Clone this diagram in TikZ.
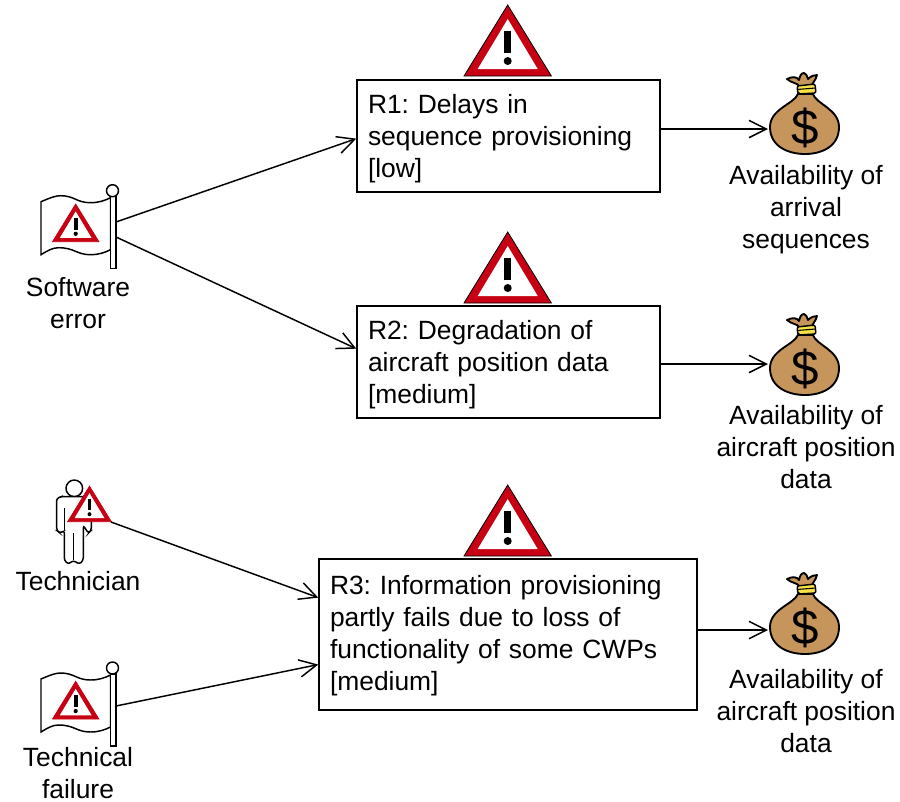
\documentclass[tikz,border=0pt]{standalone}
\usepackage{fontspec}
\setmainfont{Liberation Sans}
\usetikzlibrary{arrows.meta}
\definecolor{signred}{RGB}{200,0,20}
\definecolor{bagbrown}{RGB}{198,149,91}
\definecolor{bagband}{RGB}{250,225,70}
\newcommand{\rtop}[1]{\rule{0pt}{#1}}
\tikzset{
pics/warnsign/.style={code={
\fill[signred, draw=#1, line width=.6pt, line join=miter] (0,-71) -- (-43.7,0) -- (43.7,0) -- cycle;
\fill[white] (0,-57) -- (-30,-7) -- (30,-7) -- cycle;
\fill[black] (-3.5,-45) rectangle (3.5,-23);
\fill[black] (0,-15) circle (4);
}},
pics/warnsign/.default=black,
pics/riskflag/.style={code={
\draw[line width=1.1pt, fill=white] (-71.5,11) .. controls (-62,7) and (-57,5) .. (-52,5) .. controls (-38,5) and (-36,12) .. (-22,12) .. controls (-14,12) and (-8,10) .. (-2,7) -- (-2,59) .. controls (-8,62) and (-14,64) .. (-22,64) .. controls (-36,64) and (-38,57) .. (-54,57) .. controls (-60,57) and (-65,60) .. (-71.5,64) -- cycle;
\draw[line width=1.1pt, fill=white] (-2,6) rectangle (3.5,78);
\draw[line width=1.1pt, fill=white] (0,0) circle (6);
}},
pics/moneybag/.style={code={
\draw[line width=1.4pt, fill=bagbrown, line join=round] (-17,-50) .. controls (-11,-53) and (-7,-52) .. (-5,-49) .. controls (-4,-53) and (-3,-56) .. (0,-56) .. controls (2,-56) and (3,-53) .. (4,-50) .. controls (7,-53) and (10,-54) .. (13,-54) .. controls (12,-49) and (8,-46) .. (8,-43) -- (-5,-43) .. controls (-6,-46) and (-13,-46) .. (-17,-50) -- cycle;
\draw[line width=1.4pt, fill=bagbrown] (-6,-35) .. controls (-10,-25) and (-34,-20) .. (-34,-2) .. controls (-34,18) and (-15,25) .. (1,25) .. controls (17,25) and (35,18) .. (35,-2) .. controls (35,-20) and (12,-25) .. (9,-35) -- cycle;
\draw[line width=1.1pt, fill=bagband, rounded corners=1.5pt] (-7,-43) -- (11,-45) -- (12,-36) -- (-6,-35) -- cycle;
\draw[line width=.8pt] (-7,-39.5) -- (11.5,-41);
\node[draw=none, inner sep=0pt, font=\fontsize{37}{37}\selectfont] (-dollar) at (1,-1) {\$};
}},
pics/technician/.style={code={
\draw[line width=1.1pt, fill=white] (0,0) circle (8.3);
\draw[line width=1.1pt, fill=white, rounded corners=2pt] (-13,8.3) -- (-17.7,10) -- (-17.7,42) -- (-14,45) -- (-10,42) -- (-10,72) -- (-6,76) -- (-1,72) -- (5,76) -- (9,72) -- (9,37) -- (14,45) -- (17,42) -- (17,12) -- (13,8.3) -- cycle;
\draw[line width=1.1pt] (-10,20) -- (-10,42) (-1,45) -- (-1,72);
}}
}
\begin{document}
\begin{tikzpicture}[x=.75pt, y=-.75pt, every node/.style={font=\frenchspacing\fontsize{19.8}{24}\selectfont},
rbox/.style={draw, fill=white, line width=1.1pt, inner xsep=8.25pt, inner ysep=4pt, align=left, text width=#1},
conn/.style={line width=1.1pt, -{Straight Barb[length=13pt, width=13pt, line width=1.1pt]}},
lbl/.style={align=center, inner sep=0pt}]
\useasboundingbox (0,0) rectangle (900,801);
\node[rbox=210.75pt, minimum height=84pt] (r1) at (508.5,136) {\rtop{19pt}R1: Delays in\\sequence provisioning\\{[low]}};
\node[rbox=210.75pt, minimum height=84pt] (r2) at (508.5,362) {\rtop{19pt}R2: Degradation of\\aircraft position data\\{[medium]}};
\node[rbox=267pt, minimum height=113.25pt] (r3) at (508,634.5) {\rtop{16pt}R3: Information provisioning\\partly fails due to loss of\\functionality of some CWPs\\{[medium]}};
\foreach \y/\n in {76/a, 303/b, 556/c}{
\pic (sign\n) at (507.7,\y) {warnsign};}
\pic (flag1) at (112.5,190.7) {riskflag};
\pic (flag2) at (112.5,668) {riskflag};
\pic[scale=.53] at (75.7,241.7) {warnsign=signred};
\pic[scale=.53] at (75.7,719) {warnsign=signred};
\pic (tech) at (74.3,488.3) {technician};
\pic[scale=.5] at (89.5,521.7) {warnsign=signred};
\foreach \y/\e/\n in {129/129/1, 370/364/2, 629/630/3}{
\pic (bag\n) at (804,\y) {moneybag};
\coordinate (bag\n) at (768,\e);}
\coordinate (flag1up) at (116,222);
\coordinate (flag1low) at (116,237);
\coordinate (techout) at (111,522);
\coordinate (flag2out) at (116,706);
\node[lbl] (l1) at (78,303) {Software\\error};
\node[lbl] (l2) at (78,581) {Technician};
\node[lbl] (l3) at (78,773) {Technical\\failure};
\node[lbl] (a1) at (806,210) {Availability of\\arrival\\sequences};
\node[lbl] (a2) at (806,447) {Availability of\\aircraft position\\data};
\node[lbl] (a3) at (806,711) {Availability of\\aircraft position\\data};
\foreach \i/\j in {flag1up/r1.181.5, flag1low/r2.175.5, techout/r3.169.7, flag2out/r3.189.2}{
\draw[conn] (\i) -- (\j);}
\foreach \n in {1, 2, 3}{
\draw[conn] (r\n.east |- bag\n) -- (bag\n);}
\end{tikzpicture}
\end{document}
